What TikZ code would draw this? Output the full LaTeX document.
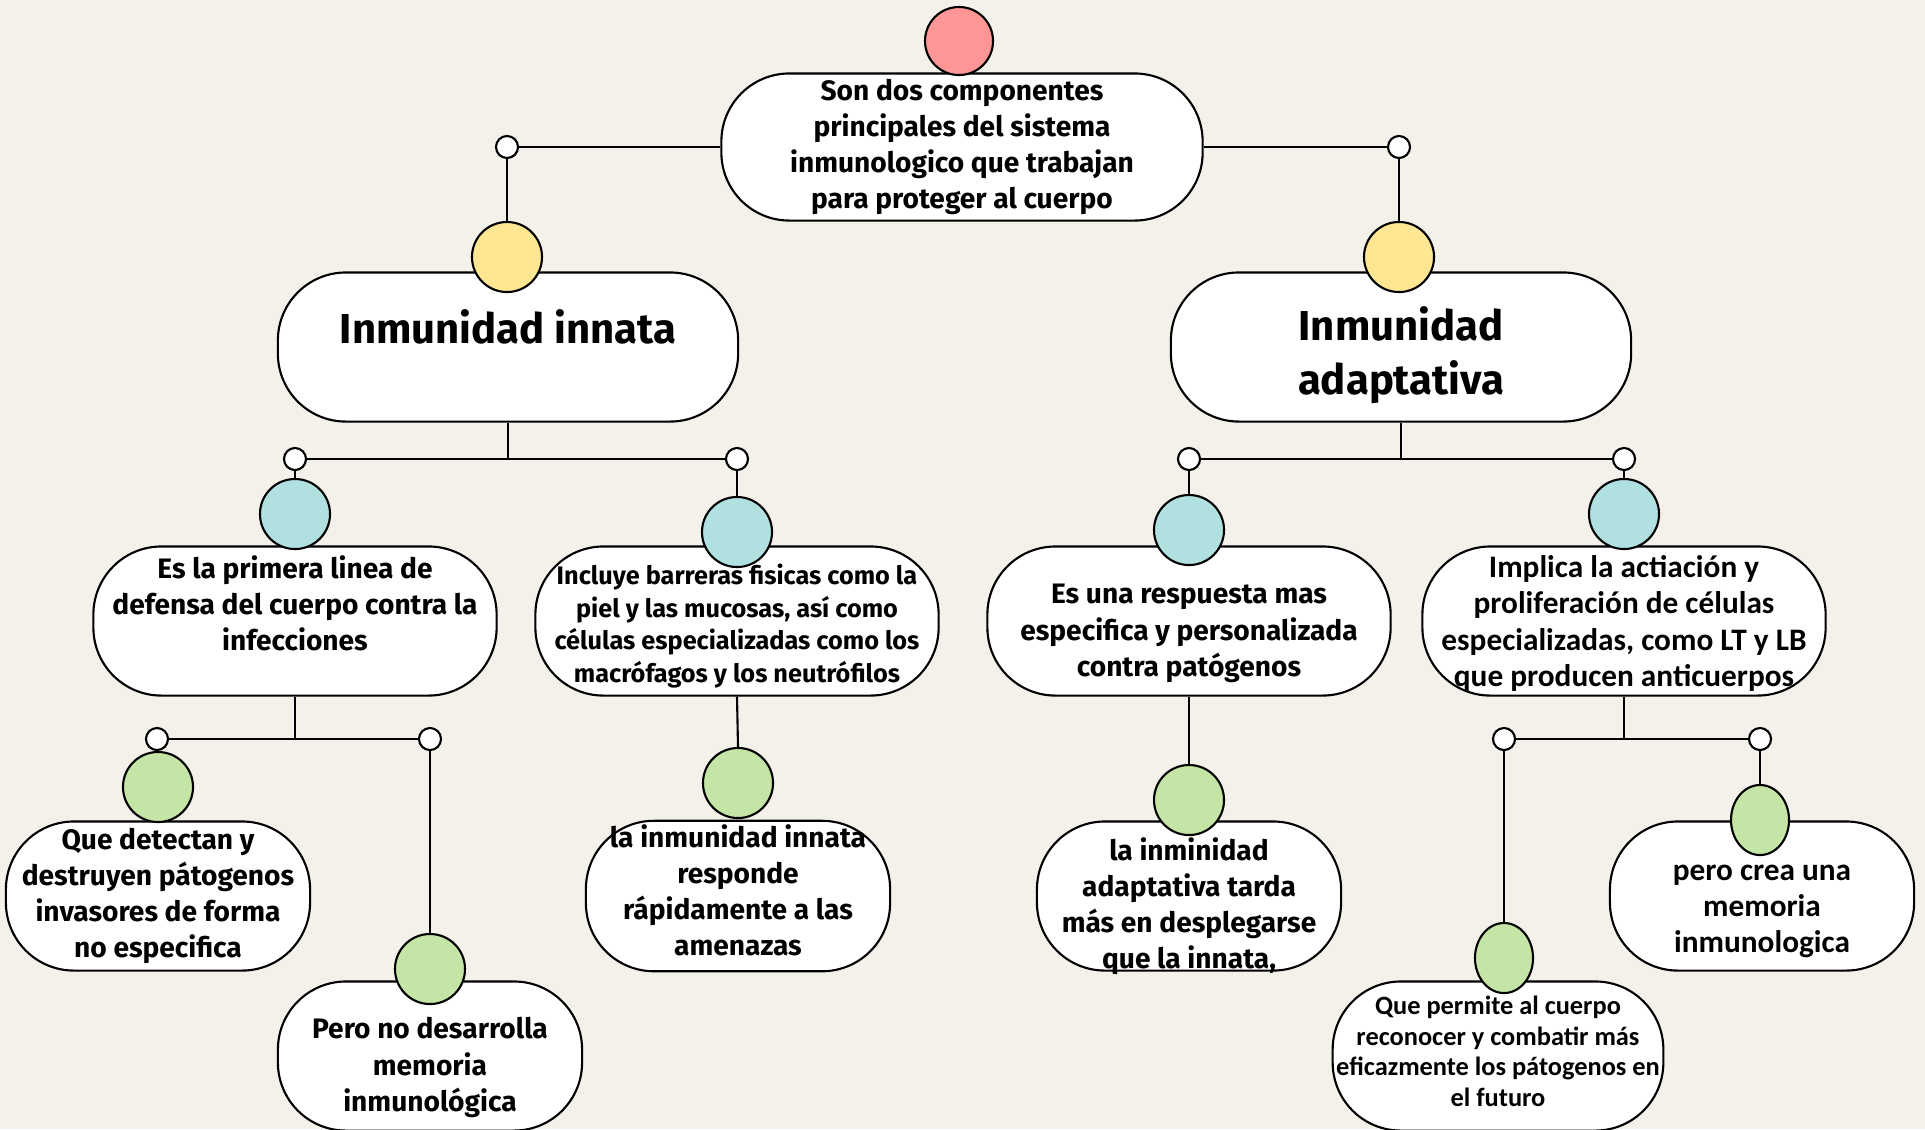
\documentclass[tikz,border=0pt]{standalone}
\usepackage{fontspec}
\setmainfont{Fira Sans}
\newfontfamily\narrowfont{Carlito}
\usetikzlibrary{shapes.geometric}
\definecolor{paper}{HTML}{F4F0EA}
\definecolor{rootred}{HTML}{FF9696}
\definecolor{bandyellow}{HTML}{FFE692}
\definecolor{tealdot}{HTML}{B0E1E0}
\definecolor{leafgreen}{HTML}{C4E5A5}
% invisible strut, pushes the first line down
\newcommand\topgap[1]{\rule{0pt}{#1}}

\begin{document}
\begin{tikzpicture}[x=0.01cm,y=-0.01cm,line width=0.6pt,
box/.style={draw,fill=white,rectangle,rounded corners=0.68cm,align=center,inner sep=1pt,
    minimum height=1.49cm,font=\fontsize{8}{10.3}\selectfont\bfseries},
wide/.style={box,minimum width=4.6cm},
mid/.style={box,minimum width=4.03cm},
small/.style={box,minimum width=3.04cm},
title/.style={font=\fontsize{11.9}{15.3}\selectfont\bfseries},
tight/.style={font=\fontsize{7.2}{9.2}\selectfont\bfseries},
narrow/.style={font=\narrowfont\fontsize{8.9}{10.3}\selectfont\bfseries},
dot/.style={draw,fill=#1,circle,minimum size=0.7cm,inner sep=0pt},
oval/.style={draw,fill=leafgreen,ellipse,minimum width=0.58cm,minimum height=0.7cm,inner sep=0pt},
knot/.style={draw,fill=white,circle,minimum size=0.22cm,inner sep=0pt}]
\fill[paper] (0,0) rectangle (1925,1129);
\useasboundingbox (0,0) rectangle (1925,1129);

% top
\node (tema) [wide,minimum width=4.81cm,minimum height=1.47cm] at (962,147)
    {Son dos componentes\\ principales del sistema\\ inmunologico que trabajan\\ para proteger al cuerpo};
\node (root) [dot=rootred,minimum size=0.68cm] at (959,41) {};
\node (ta) [knot] at (507,147) {};
\node (tb) [knot] at (1399,147) {};

% the two branches
\node (innata) [wide,title] at (508,347) {Inmunidad innata\\[-3.9pt] \mbox{}};
\node (adapt) [wide,title] at (1401,347) {\topgap{14.4pt}Inmunidad\\ adaptativa};
\node (ya) [dot=bandyellow] at (507,257) {};
\node (yb) [dot=bandyellow] at (1399,257) {};

\node (ia) [knot] at (295,459) {};
\node (ib) [knot] at (737,459) {};
\node (aa) [knot] at (1189,459) {};
\node (ab) [knot] at (1624,459) {};

\node (primera) [mid] at (295,621)
    {Es la primera linea de\\ defensa del cuerpo contra la\\ infecciones\\ \mbox{}};
\node (incluye) [mid,tight] at (737,621)
    {\topgap{8.7pt}Incluye barreras fisicas como la\\ piel y las mucosas, así como\\ células especializadas como los\\ macrófagos y los neutrófilos};
\node (respuesta) [mid] at (1189,621)
    {\topgap{12.6pt}Es una respuesta mas\\ especifica y personalizada\\ contra patógenos};
\node (implica) [mid,narrow] at (1624,621)
    {\topgap{7.6pt}Implica la actiación y\\ proliferación de células\\ especializadas, como LT y LB\\ que producen anticuerpos};
\node (tia) [dot=tealdot] at (295,514) {};
\node (tib) [dot=tealdot] at (737,532) {};
\node (taa) [dot=tealdot] at (1189,530) {};
\node (tab) [dot=tealdot] at (1624,514) {};

% leaves
\node (pa) [knot] at (157,739) {};
\node (pb) [knot] at (430,739) {};
\node (ma) [knot] at (1504,739) {};
\node (mb) [knot] at (1760,739) {};

\node (detectan) [small] at (158,896)
    {Que detectan y\\ destruyen pátogenos\\ invasores de forma\\ no especifica};
\node (memoria) [small] at (430,1056)
    {\topgap{12.6pt}Pero no desarrolla\\ memoria\\ inmunológica};
\node (responde) [small] at (738,896)
    {la inmunidad innata\\ responde\\ rápidamente a las\\ amenazas\\[-6.9pt] \mbox{}};
\node (tarda) [small] at (1189,896)
    {la inminidad\\ adaptativa tarda\\ más en desplegarse\\ que la innata,\\[-14.3pt] \mbox{}};
\node (futuro) [small,narrow,font=\narrowfont\fontsize{7.5}{8.7}\selectfont\bfseries] at (1498,1056)
    {Que permite al cuerpo\\ reconocer y combatir más\\ eficazmente los pátogenos en\\ el futuro\\[-5.9pt] \mbox{}};
\node (crea) [small,narrow] at (1762,896)
    {\topgap{13.3pt}pero crea una\\ memoria\\ inmunologica};
\node (gpa) [dot=leafgreen] at (158,787) {};
\node (gpb) [dot=leafgreen] at (430,969) {};
\node (gib) [dot=leafgreen] at (738,783) {};
\node (gra) [dot=leafgreen] at (1189,800) {};
\node (gma) [oval] at (1504,958) {};
\node (gmb) [oval] at (1760,820) {};

% connectors
\draw (tema.west) -- (ta.east);
\draw (tema.east) -- (tb.west);
\draw (ta.south) -- (ya.north);
\draw (tb.south) -- (yb.north);

\draw (innata.south) -- (innata.south |- ia);
\draw (ia.east) -- (ib.west);
\draw (ia.south) -- (tia.north);
\draw (ib.south) -- (tib.north);
\draw (adapt.south) -- (adapt.south |- aa);
\draw (aa.east) -- (ab.west);
\draw (aa.south) -- (taa.north);
\draw (ab.south) -- (tab.north);

\draw (primera.south) -- (primera.south |- pa);
\draw (pa.east) -- (pb.west);
\draw (pa.south) -- (gpa.north);
\draw (pb.south) -- (gpb.north);
\draw (incluye.south) -- (gib.north);
\draw (respuesta.south) -- (gra.north);
\draw (implica.south) -- (implica.south |- ma);
\draw (ma.east) -- (mb.west);
\draw (ma.south) -- (gma.north);
\draw (mb.south) -- (gmb.north);
\end{tikzpicture}
\end{document}
